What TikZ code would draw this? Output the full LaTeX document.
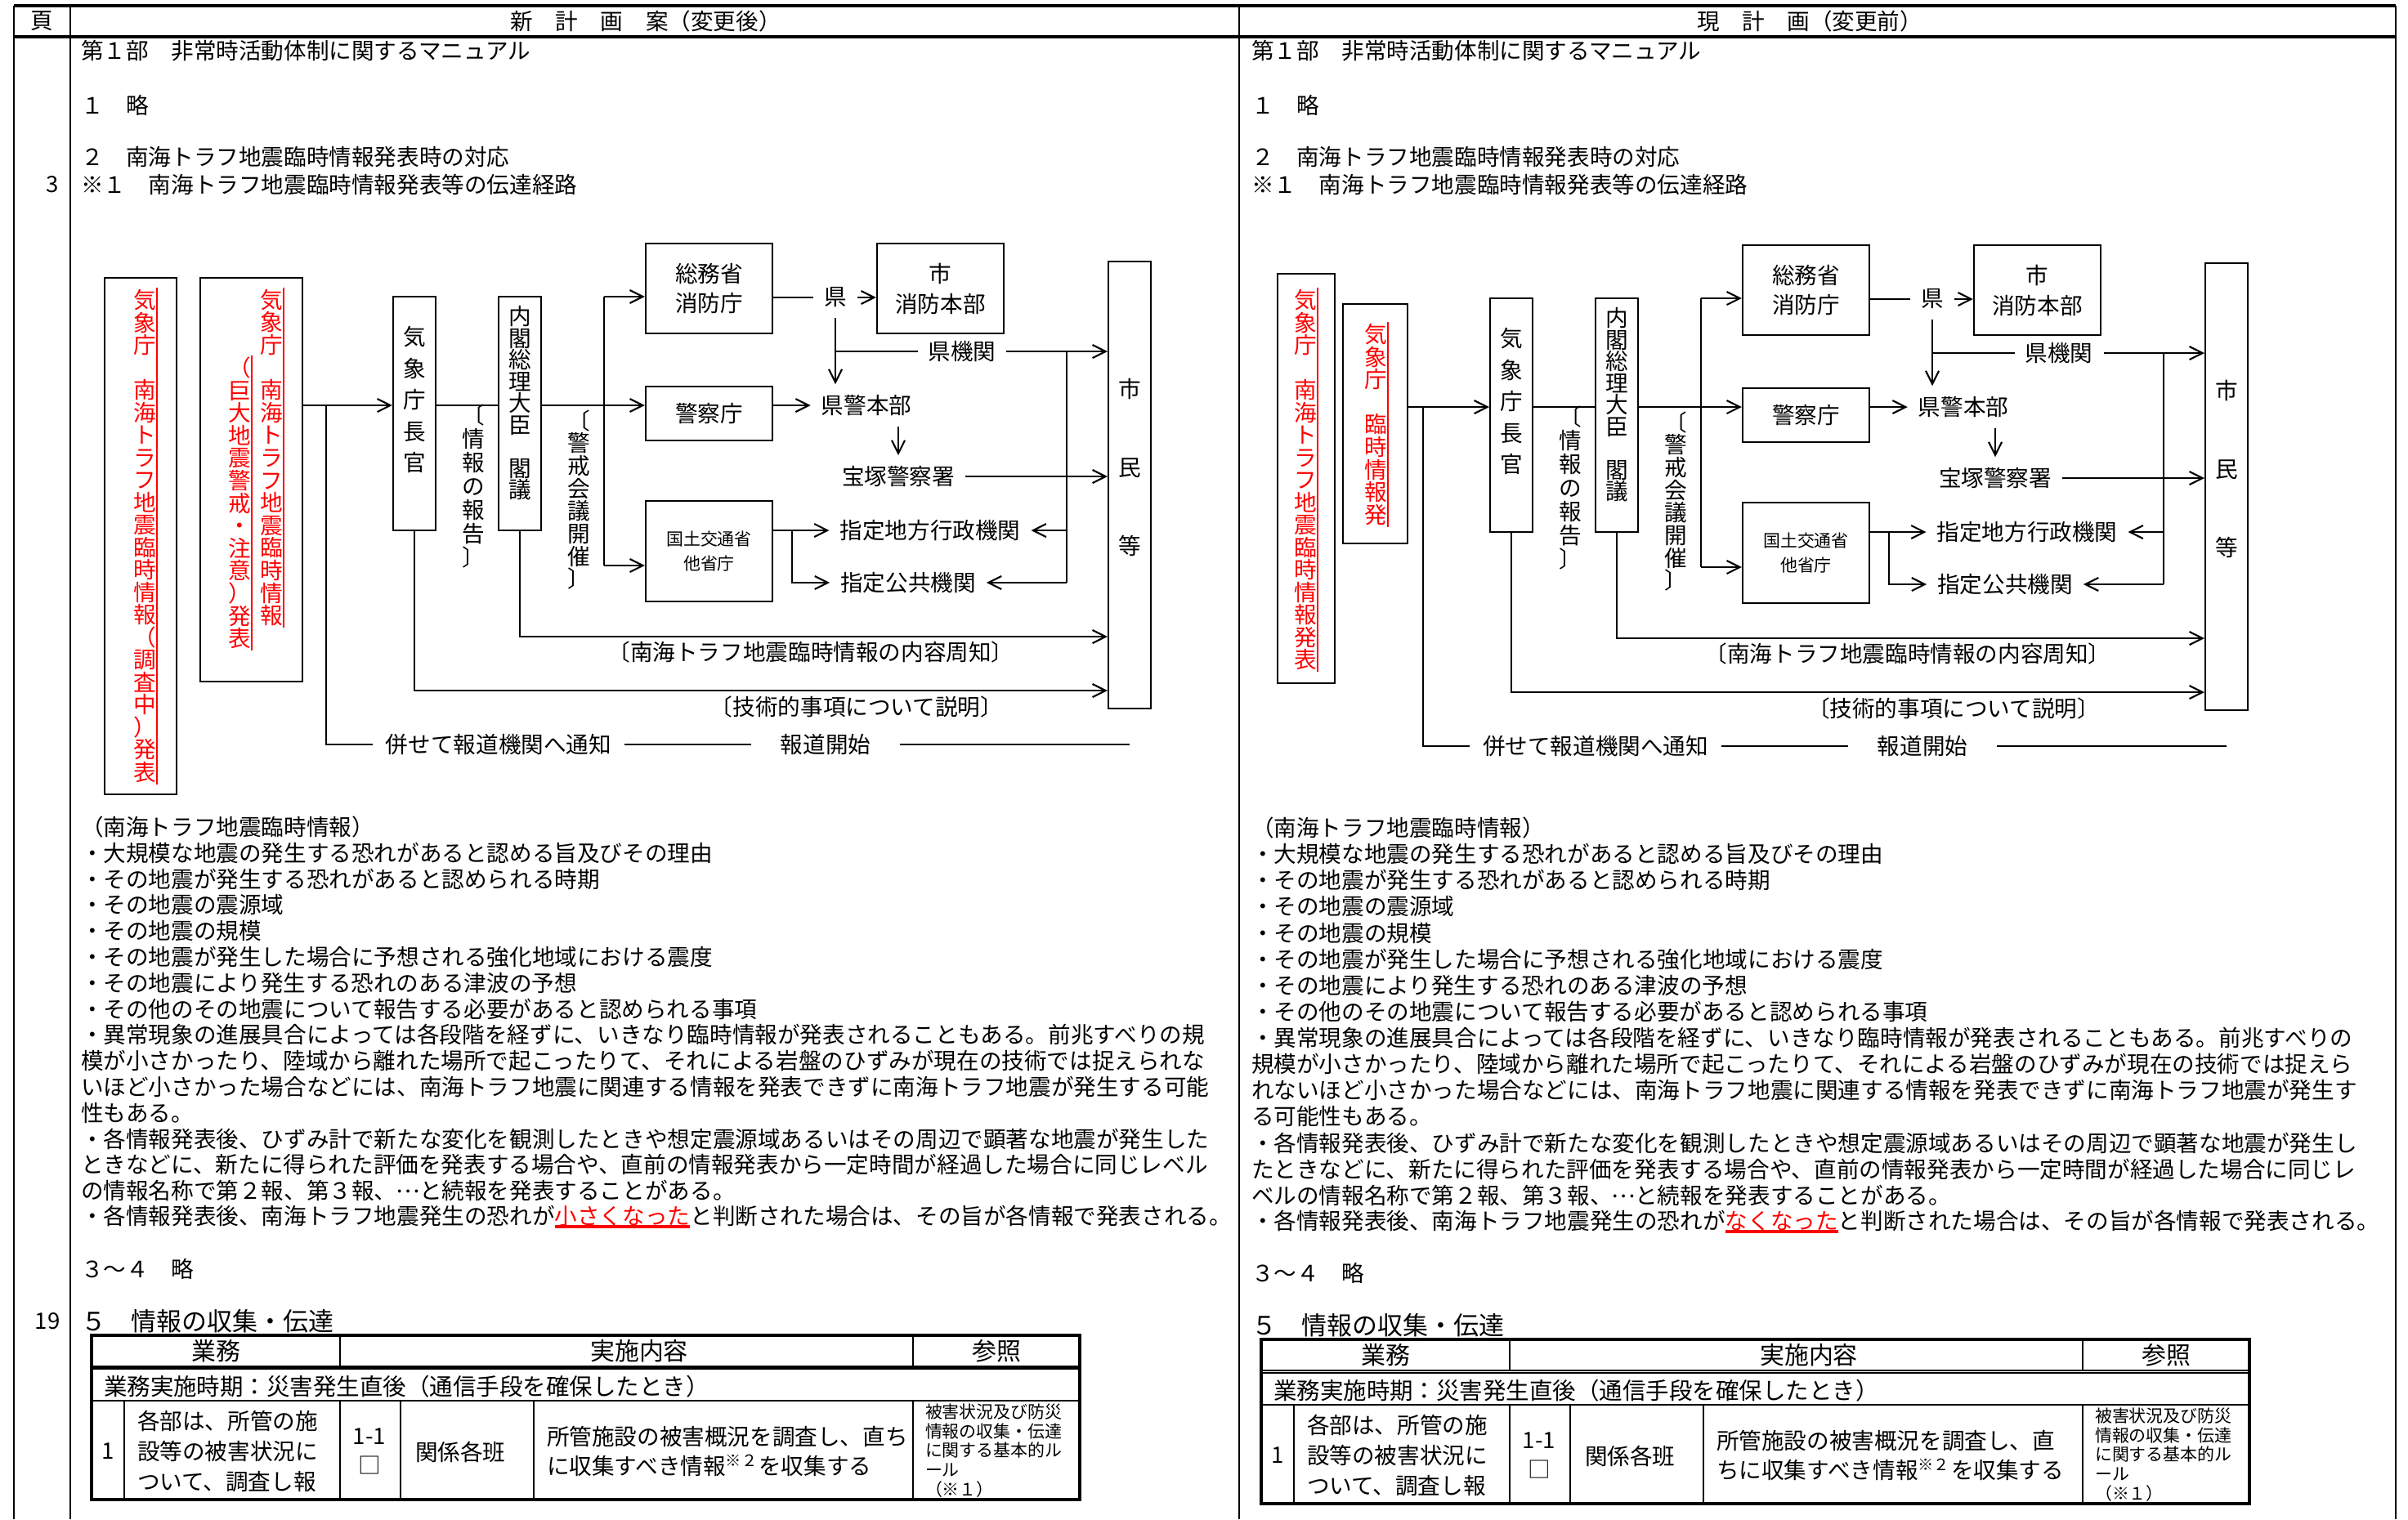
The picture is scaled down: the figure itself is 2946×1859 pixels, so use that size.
\documentclass[tikz,border=0pt]{standalone}
\usepackage{fontspec}
\setmainfont{Noto Sans CJK JP}
\usetikzlibrary{arrows.meta}

\newdimen\pxl \pxl=0.01cm
\newcommand\bodyfont{\fontsize{7.85pt}{9pt}\selectfont}
\newcommand\twoline{\fontsize{7.85pt}{10.5pt}\selectfont}
\newcommand\smallline{\fontsize{5.95pt}{8.8pt}\selectfont}
\newcommand\headfont{\fontsize{8.8pt}{10pt}\selectfont}
\newcommand\thfont{\fontsize{8.5pt}{10pt}\selectfont}
\newcommand\rowfont{\fontsize{8.1pt}{10pt}\selectfont}
\newcommand\cellfont{\fontsize{7.85pt}{10.4pt}\selectfont}
\newcommand\reffont{\fontsize{5.95pt}{6.72pt}\selectfont}

% vertical text: pitch, characters
\makeatletter
\newcommand\tate[2]{\vbox{\offinterlineskip
  \@tfor\tate@c:=#2\do{\hbox{\raisebox{0pt}[\dimexpr.38em+#1/2\relax][\dimexpr#1/2-.38em\relax]{\tate@c}}}}}
\makeatother
\newcommand\redul[1]{{\color{red}\setbox0\hbox{#1}\rlap{\rule[-1.4pt]{\wd0}{1.1pt}}\box0}}
\newcommand\tenten{\makebox[1em]{\raisebox{.3em}{…}}}

\begin{document}
\begin{tikzpicture}[x=0.01cm, y=-0.01cm, >={Straight Barb[length=1.6mm,width=1.6mm]},
    font=\bodyfont, line width=0.6pt,
    box/.style={draw, inner sep=0pt},
    lbl/.style={inner sep=1.2mm},
    txt/.style={inner sep=0pt, anchor=west},
    tat/.style={inner sep=0pt}]

    \useasboundingbox (0,0) rectangle (2946,1859);

    % cadre de la page
    \draw[line width=1pt] (17,7) -- (2931,7);
    \draw[line width=1pt] (17,45) -- (2931,45);
    \foreach \xx in {17,86,1516,2931} \draw[line width=0.75pt] (\xx,7) -- (\xx,1859);

    \node (peg) at (51,26) {頁};
    \node (newhd) at (790,26) {新　計　画　案（変更後）};
    \node (oldhd) at (2214,26) {現　計　画（変更前）};
    \node (pg3) at (64,226) {3};
    \node (pg19) at (58,1617) {19};

    % titres des deux colonnes
    \foreach \side/\xx/\yy in {L/98/0,R/1530/5}{
        \node[txt] (bu\side) at (\xx,62) {第１部　非常時活動体制に関するマニュアル};
        \node[txt] (ryaku\side) at (\xx,129) {１　略};
        \node[txt] (taio\side) at (\xx,192) {２　南海トラフ地震臨時情報発表時の対応};
        \node[txt] (keiro\side) at (\xx,226) {※１　南海トラフ地震臨時情報発表等の伝達経路};
        \node[txt] (ryakuB\side) at (\xx,1553+\yy) {３～４　略};
        \node[txt, font=\headfont] (shushu\side) at (\xx,1617+\yy) {５　情報の収集・伝達};
    }

    % cadres rouges
    \node[box, minimum width=.88cm, minimum height=6.32cm] (redAL) at (172,656) {};
    \node[box, minimum width=1.25cm, minimum height=4.94cm] (redBL) at (307.5,587) {};
    \node[box, minimum width=.70cm, minimum height=5.01cm] (redAR) at (1598,585.5) {};
    \node[box, minimum width=.79cm, minimum height=2.93cm] (redBR) at (1682.5,518.5) {};

    \node[tat, text=red] (jmaAL) at (177,656) {\tate{27.5\pxl}{気象庁　南海トラフ地震臨時情報（調査中）発表}};
    \node[tat, text=red] (jmaBL) at (332,560) {\tate{27.6\pxl}{気象庁　南海トラフ地震臨時情報}};
    \node[tat, text=red] (jmaCL) at (293,615.6) {\tate{27.6\pxl}{（巨大地震警戒・注意）発表}};
    \node[tat, text=red] (jmaAR) at (1597,587) {\tate{27.5\pxl}{気象庁　南海トラフ地震臨時情報発表}};
    \node[tat, text=red] (jmaBR) at (1683,519.4) {\tate{27.6\pxl}{気象庁　臨時情報発}};
    \foreach \n in {jmaAL,jmaBL,jmaCL,jmaAR,jmaBR}
        \draw[red] (\n.north east) -- (\n.south east);

    % schema de transmission (les deux versions)
    \foreach \side/\shx/\shy in {L/0/0,R/1342/2}{
    \begin{scope}[shift={(\shx,\shy)}]
        \node[box, minimum width=.52cm, minimum height=2.86cm] (chokan\side) at (507,506) {};
        \node[tat] (chokantx\side) at (507,489) {\tate{38.5\pxl}{気象庁長官}};
        \node[box, minimum width=.52cm, minimum height=2.86cm] (naikaku\side) at (636,506) {};
        \node[tat] (naikakutx\side) at (636,493) {\tate{26.5\pxl}{内閣総理大臣　閣議}};
        \node[box, minimum width=.52cm, minimum height=5.47cm] (shimin\side) at (1382,593.5) {};
        \node[tat] (shimintx\side) at (1382,572) {\tate{96\pxl}{市民等}};

        \node[box, minimum width=1.55cm, minimum height=1.10cm, align=center, font=\twoline] (somu\side) at (867.5,353) {総務省\\消防庁};
        \node[box, minimum width=1.55cm, minimum height=.66cm] (keisatsu\side) at (867.5,506) {警察庁};
        \node[box, minimum width=1.55cm, minimum height=1.23cm, align=center, font=\smallline] (kokudo\side) at (867.5,674.5) {国土交通省\\他省庁};
        \node[box, minimum width=1.55cm, minimum height=1.10cm, align=center, font=\twoline] (shi\side) at (1150.5,353) {市\\消防本部};

        \node[lbl] (ken\side) at (1022,364) {県};
        \node[lbl] (kenkikan\side) at (1177,430) {県機関};
        \node[lbl] (kenkei\side) at (1060,496) {県警本部};
        \node[lbl] (takara\side) at (1099,583) {宝塚警察署};
        \node[lbl] (chiho\side) at (1138,649) {指定地方行政機関};
        \node[lbl] (kokyo\side) at (1111,713) {指定公共機関};

        \node[tat] (hokoku\side) at (579,595) {\tate{29\pxl}{〔情報の報告〕}};
        \node[tat] (keikai\side) at (708,611.5) {\tate{27.7\pxl}{〔警戒会議開催〕}};
        \node[tat] (naiyo\side) at (992,798) {〔南海トラフ地震臨時情報の内容周知〕};
        \node[tat] (gijutsu\side) at (1048,865) {〔技術的事項について説明〕};
        \node[inner xsep=1.5mm, inner ysep=0pt] (hodo\side) at (610,911) {併せて報道機関へ通知};
        \node[inner xsep=3.5mm, inner ysep=0pt] (kaishi\side) at (1010,911) {報道開始};

        % points de branchement
        \coordinate (row\side) at (0,496);
        \coordinate (brch\side) at (399,496);
        \coordinate (vt\side) at (739,363);
        \coordinate (vb\side) at (739,692);
        \coordinate (vr\side) at (1305,430);
        \coordinate (kb\side) at (969,649);
        \coordinate (tn\side) at (0,779);
        \coordinate (tg\side) at (0,845);
        \coordinate (hend\side) at (1382,911);

        \draw[->] (redB\side.east |- row\side) -- (chokan\side.west |- row\side);
        \draw (brch\side) |- (hodo\side.west);
        \draw (hodo\side.east) -- (kaishi\side.west);
        \draw (kaishi\side.east) -- (hend\side);
        \draw (chokan\side.east |- row\side) -- (naikaku\side.west |- row\side);
        \draw[->] (naikaku\side.east |- row\side) -- (keisatsu\side.west |- row\side);
        \draw (vt\side) -- (vb\side);
        \draw[->] (vt\side) -- (vt\side -| somu\side.west);
        \draw[->] (vb\side) -- (vb\side -| kokudo\side.west);
        \draw (somu\side.east |- ken\side) -- (ken\side.west);
        \draw[->] (ken\side.east) -- (ken\side.east -| shi\side.west);
        \draw[->] (ken\side.south) -- (ken\side.south |- kenkei\side.north);
        \draw (ken\side.south |- kenkikan\side) -- (kenkikan\side.west);
        \draw[->] (kenkikan\side.east) -- (kenkikan\side.east -| shimin\side.west);
        \draw[->] (keisatsu\side.east |- kenkei\side) -- (kenkei\side.west);
        \draw[->] (kenkei\side.south -| takara\side) -- (takara\side.north);
        \draw[->] (takara\side.east) -- (takara\side.east -| shimin\side.west);
        \draw[->] (kokudo\side.east |- chiho\side) -- (chiho\side.west);
        \draw[->] (kb\side) |- (kokyo\side.west);
        \draw (vr\side) -- (vr\side |- kokyo\side);
        \draw[->] (vr\side |- chiho\side) -- (chiho\side.east);
        \draw[->] (vr\side |- kokyo\side) -- (kokyo\side.east);
        \draw[->] (naikaku\side.south) |- (shimin\side.west |- tn\side);
        \draw[->] (chokan\side.south) |- (shimin\side.west |- tg\side);
    \end{scope}
    }

    % contenu du message
    \foreach \memo [count=\i] in {
        （南海トラフ地震臨時情報）,
        ・大規模な地震の発生する恐れがあると認める旨及びその理由,
        ・その地震が発生する恐れがあると認められる時期,
        ・その地震の震源域,
        ・その地震の規模,
        ・その地震が発生した場合に予想される強化地域における震度,
        ・その地震により発生する恐れのある津波の予想,
        ・その他のその地震について報告する必要があると認められる事項,
        ・異常現象の進展具合によっては各段階を経ずに、いきなり臨時情報が発表されることもある。前兆すべりの規,
        模が小さかったり、陸域から離れた場所で起こったりて、それによる岩盤のひずみが現在の技術では捉えられな,
        いほど小さかった場合などには、南海トラフ地震に関連する情報を発表できずに南海トラフ地震が発生する可能,
        性もある。,
        ・各情報発表後、ひずみ計で新たな変化を観測したときや想定震源域あるいはその周辺で顕著な地震が発生した,
        ときなどに、新たに得られた評価を発表する場合や、直前の情報発表から一定時間が経過した場合に同じレベル,
        の情報名称で第２報、第３報、\tenten と続報を発表することがある。,
        {・各情報発表後、南海トラフ地震発生の恐れが\redul{小さくなった}と判断された場合は、その旨が各情報で発表される。}}
        \node[txt] (memoL\i) at (98,{1012+31.8*(\i-1)}) {\memo};

    \foreach \memo [count=\i] in {
        （南海トラフ地震臨時情報）,
        ・大規模な地震の発生する恐れがあると認める旨及びその理由,
        ・その地震が発生する恐れがあると認められる時期,
        ・その地震の震源域,
        ・その地震の規模,
        ・その地震が発生した場合に予想される強化地域における震度,
        ・その地震により発生する恐れのある津波の予想,
        ・その他のその地震について報告する必要があると認められる事項,
        ・異常現象の進展具合によっては各段階を経ずに、いきなり臨時情報が発表されることもある。前兆すべりの,
        規模が小さかったり、陸域から離れた場所で起こったりて、それによる岩盤のひずみが現在の技術では捉えら,
        れないほど小さかった場合などには、南海トラフ地震に関連する情報を発表できずに南海トラフ地震が発生す,
        る可能性もある。,
        ・各情報発表後、ひずみ計で新たな変化を観測したときや想定震源域あるいはその周辺で顕著な地震が発生し,
        たときなどに、新たに得られた評価を発表する場合や、直前の情報発表から一定時間が経過した場合に同じレ,
        ベルの情報名称で第２報、第３報、\tenten と続報を発表することがある。,
        {・各情報発表後、南海トラフ地震発生の恐れが\redul{なくなった}と判断された場合は、その旨が各情報で発表される。}}
        \node[txt] (memoR\i) at (1530,{1013+32.13*(\i-1)}) {\memo};

    % tableaux
    \draw[line width=1.4pt] (112,1673.5) -- (1321,1673.5);
    \draw[line width=0.45pt] (1543,1676.7) -- (2752,1676.7);
    \draw[line width=0.45pt] (1543,1680.2) -- (2752,1680.2);
    \foreach \side/\shx/\shy/\cA/\cB in {L/0/0/所管施設の被害概況を調査し、直ち/に収集すべき情報\textsuperscript{※２}を収集する,
                                          R/1431/5/所管施設の被害概況を調査し、直/ちに収集すべき情報\textsuperscript{※２}を収集する}{
    \begin{scope}[shift={(\shx,\shy)}]
        \draw[line width=0.9pt] (112,1634) rectangle (1321,1835);
        \draw[line width=0.8pt] (112,1714) -- (1321,1714);
        \foreach \xx in {416,1117} \draw (\xx,1634) -- (\xx,1672);
        \foreach \xx in {152,416,490,653,1117} \draw (\xx,1714) -- (\xx,1835);
        \node[font=\thfont] (gyomu\side) at (264,1653) {業務};
        \node[font=\thfont] (naiyohd\side) at (782,1653) {実施内容};
        \node[font=\thfont] (sansho\side) at (1219,1653) {参照};
        \node[txt, font=\rowfont] (jiki\side) at (126,1697) {業務実施時期：災害発生直後（通信手段を確保したとき）};
        \node (no\side) at (132,1776) {1};
        \node[txt, align=left, font=\cellfont] (kakubu\side) at (167,1776) {各部は、所管の施\\設等の被害状況に\\ついて、調査し報};
        \node[align=center, font=\cellfont] (koumoku\side) at (452,1776) {1-1\\□};
        \node[txt] (han\side) at (507,1777) {関係各班};
        \node[txt, align=left, font=\cellfont] (jisshi\side) at (668,1776) {\cA\\\cB};
        \node[txt, align=left, font=\reffont] (ref\side) at (1131,1775) {被害状況及び防災\\情報の収集・伝達\\に関する基本的ル\\ール\\（※１）};
    \end{scope}
    }

\end{tikzpicture}
\end{document}
